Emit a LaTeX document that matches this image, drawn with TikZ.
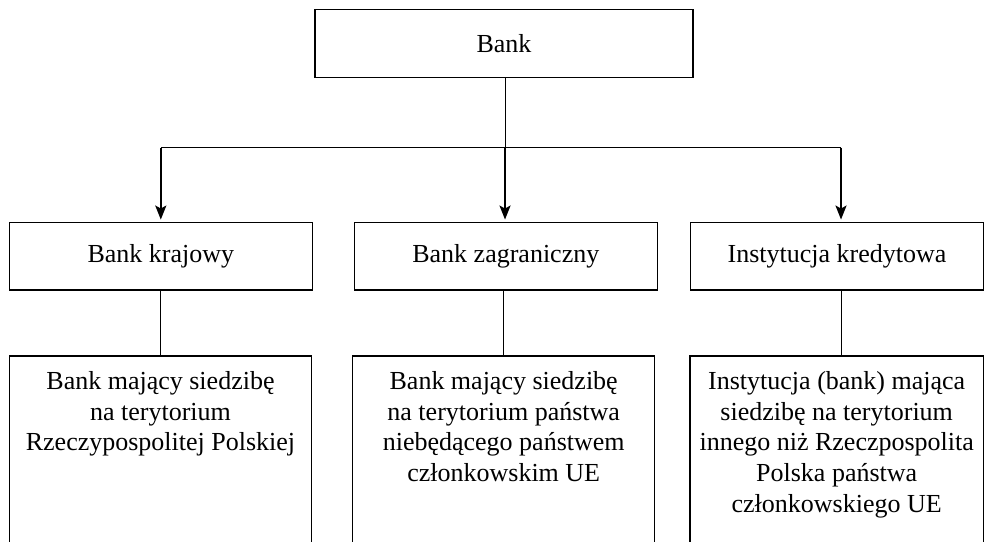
\documentclass[tikz,border=0pt]{standalone}
\usepackage{fontspec}
\setmainfont{Liberation Serif}
\usetikzlibrary{arrows.meta}
\begin{document}
\begin{tikzpicture}[x=1pt,y=-1pt,
  box/.style={draw, line width=1.2pt, rectangle, inner sep=0pt},
  lbl/.style={font=\fontsize{26}{30.6}\selectfont, align=center, inner sep=0pt},
  link/.style={line width=1pt},
  bar/.style={line width=1.3pt},
  arr/.style={line width=2pt, -{Stealth[length=14pt,width=11pt,inset=3pt]}, shorten >=2.5pt}]
\useasboundingbox (0,0) rectangle (984,541);
\clip (0,0) rectangle (984,541);
% top
\node[box, lbl, minimum width=378pt, minimum height=68pt] (top) at (504,43.3) {Bank};
% second row
\node[box, lbl, minimum width=303pt, minimum height=67.3pt] (k1) at (160.8,256.3) {Bank krajowy};
\node[box, lbl, minimum width=303pt, minimum height=67.3pt] (k2) at (505.8,256.3) {Bank zagraniczny};
\node[box, lbl, minimum width=292.6pt, minimum height=67.3pt] (k3) at (837,256.3) {Instytucja kredytowa};
% third row boxes
\node[box, minimum width=302.4pt, minimum height=200pt] (d1) at (160.5,456) {};
\node[box, minimum width=302pt, minimum height=200pt] (d2) at (503.7,456) {};
\node[box, minimum width=293.3pt, minimum height=200pt] (d3) at (836.7,456) {};
\node[lbl, anchor=north] (t1) at ([yshift=-12.6pt]d1.north) {\strut Bank mający siedzibę\\na terytorium\\Rzeczypospolitej Polskiej};
\node[lbl, anchor=north] (t2) at ([yshift=-12.6pt]d2.north) {\strut Bank mający siedzibę\\na terytorium państwa\\niebędącego państwem\\członkowskim UE};
\node[lbl, anchor=north] (t3) at ([yshift=-12.6pt]d3.north) {\strut Instytucja (bank) mająca\\siedzibę na terytorium\\innego niż Rzeczpospolita\\Polska państwa\\członkowskiego UE};
% connectors
\coordinate (j) at (505,147.7);
\coordinate (h1) at (160.8,147.7);
\coordinate (h3) at (841,147.7);
\draw[link] (j |- top.south) -- (j);
\draw[bar] (h1) -- (h3);
\draw[arr] (h1) -- (h1 |- k1.north);
\draw[arr] (j) -- (j |- k2.north);
\draw[arr] (h3) -- (h3 |- k3.north);
\draw[link] (d1.north |- k1.south) -- (d1.north);
\draw[link] (d2.north |- k2.south) -- (d2.north);
\draw[link] (h3 |- k3.south) -- (h3 |- d3.north);
\end{tikzpicture}
\end{document}
